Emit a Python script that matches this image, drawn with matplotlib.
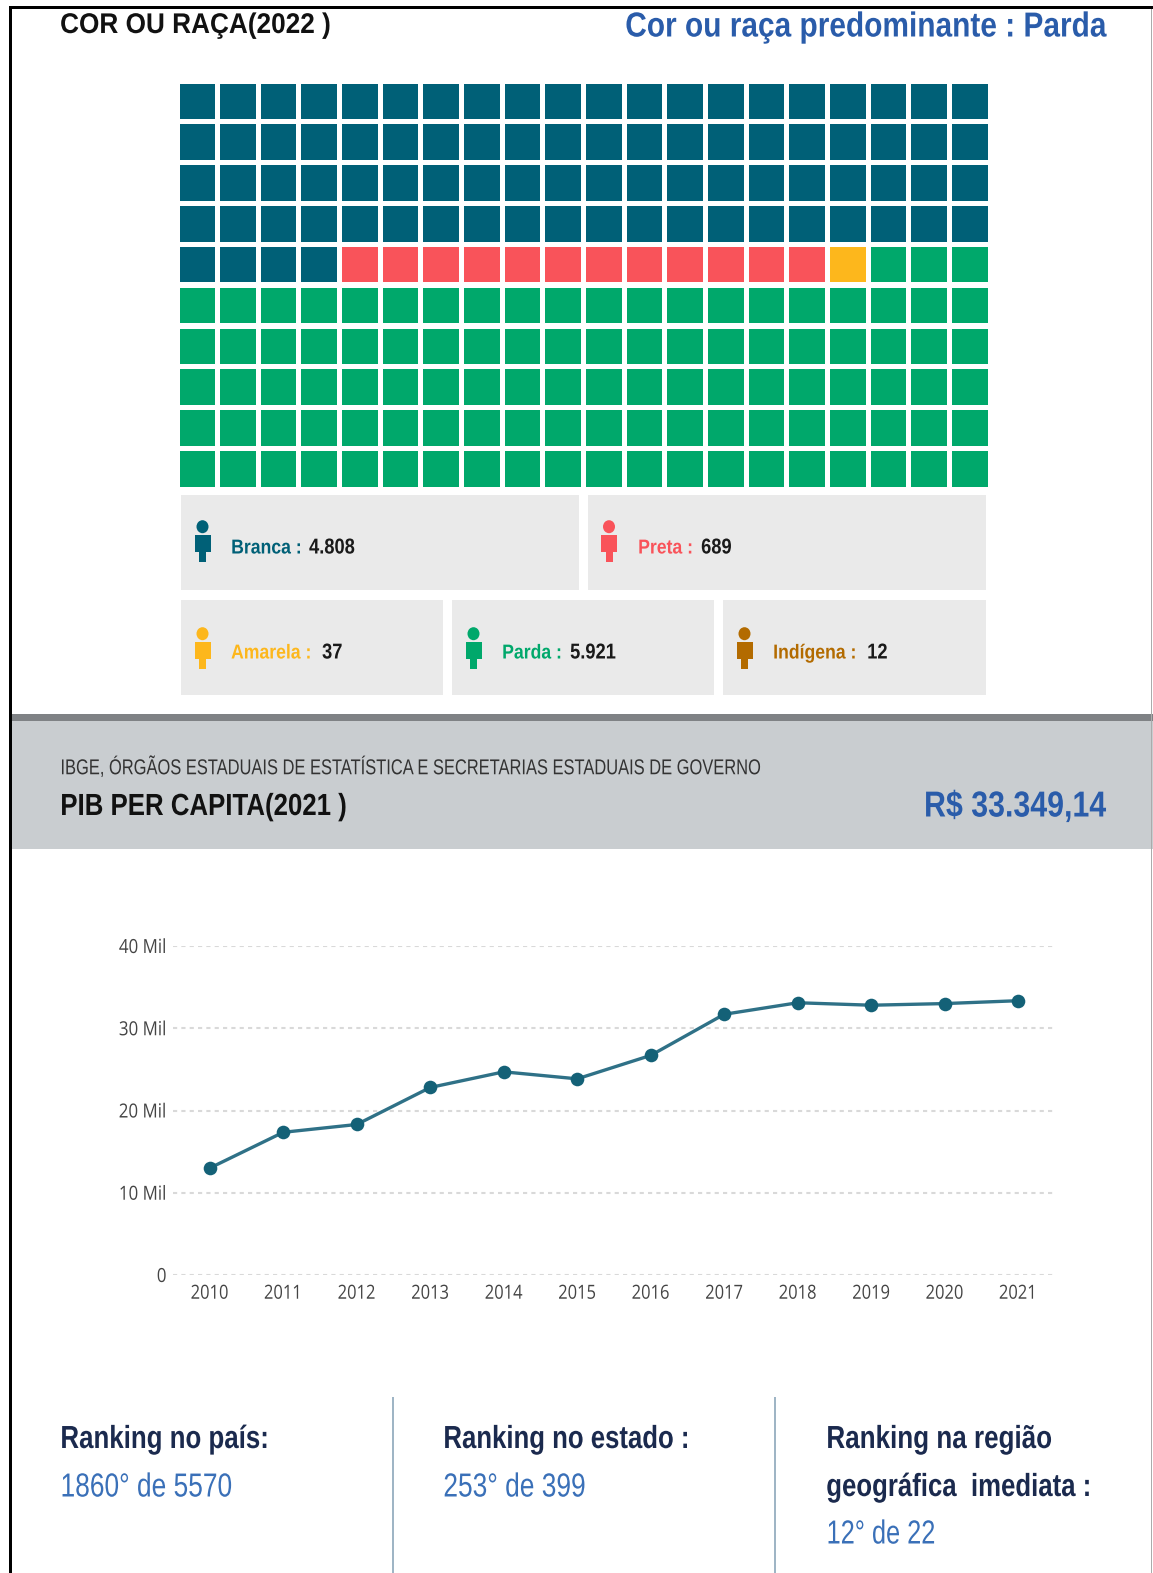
import matplotlib
matplotlib.use("Agg")
import matplotlib.pyplot as plt
import matplotlib.patheffects as pe
from matplotlib.patches import Rectangle, Ellipse
from matplotlib.transforms import Affine2D

W, H = 1153, 1573
SANS = "Liberation Sans"

categories = ["Branca", "Preta", "Amarela", "Parda", "Indígena"]
population = ["4.808", "689", "37", "5.921", "12"]
waffle_cells = [84, 12, 1, 103]
waffle_colors = ["#006077", "#F9535A", "#FDB71C", "#00A86B"]
cat_colors = ["#006077", "#F9535A", "#FDB71C", "#00A86B", "#B36B00"]
years = list(range(2010, 2022))
pib_mil = [13.0, 17.35, 18.3, 22.8, 24.7, 23.85, 26.7, 31.7, 33.1, 32.8, 33.0, 33.35]
y_ticks = [0, 10, 20, 30, 40]
y_labels = ["0", "10 Mil", "20 Mil", "30 Mil", "40 Mil"]


class Squeeze(pe.AbstractPathEffect):
    """Narrow a text horizontally about its own anchor edge."""
    def __init__(self, sx, align="left"):
        super().__init__()
        self.sx, self.align = sx, align

    def draw_path(self, renderer, gc, tpath, affine, rgbFace=None):
        ext = affine.transform_path(tpath).get_extents()
        x0 = {"left": ext.x0, "right": ext.x1, "center": (ext.x0 + ext.x1) / 2}[self.align]
        squeeze = Affine2D().translate(-x0, 0).scale(self.sx, 1).translate(x0, 0)
        renderer.draw_path(gc, tpath, affine + squeeze, rgbFace)


fig = plt.figure(figsize=(W / 100, H / 100), dpi=100, facecolor="white")
bg = fig.add_axes([0, 0, 1, 1], zorder=0)
bg.set_xlim(0, W); bg.set_ylim(H, 0); bg.axis("off")


def rect(x0, y0, x1, y1, c, z=1):
    bg.add_patch(Rectangle((x0, y0), x1 - x0, y1 - y0, fc=c, ec="none", zorder=z))


def T(x, y, s, size, sx, c="black", w="normal", ha="left"):
    bg.text(x, y, s, fontsize=size, color=c, fontweight=w, ha=ha, va="center", family=SANS,
            path_effects=[Squeeze(sx, ha)])


# frame
rect(8.5, 6, 11.5, H, "black", 5)
rect(8.5, 6, W, 9, "black", 5)
rect(1150.5, 9, 1152, H, "#ABABAB", 5)

# headers
T(60, 26, "COR OU RAÇA(2022 )", 20.5, 0.92, "#111111", "bold")
T(1106, 27, "Cor ou raça predominante : Parda", 25, 0.86, "#2A5CAA", "bold", ha="right")

# waffle
L, R, TOP, BOT = 179.5, 987.5, 83.5, 486.7
axw = fig.add_axes([L / W, 1 - BOT / H, (R - L) / W, (BOT - TOP) / H], zorder=1)
px, py = 40.66, 40.85
cw, ch = 35.5 / px, 35.5 / py
axw.set_xlim(0, 19 + cw); axw.set_ylim(9 + ch, 0); axw.axis("off")
seq = [c for c, n in zip(waffle_colors, waffle_cells) for _ in range(n)]
for i, c in enumerate(seq):
    axw.add_patch(Rectangle((i % 20, i // 20), cw, ch, fc=c, ec="none"))

# legend cards
cards = [(181, 495, 579, 589.5), (587.5, 495, 986, 589.5),
         (181, 600, 443, 695), (452, 600, 714, 695), (723, 600, 985.5, 695)]
label_x = [231, 638, 231, 502, 773]
value_x = [309, 701, 322, 570, 867]
for (x0, y0, x1, y1), cat, val, col, lx, vx in zip(cards, categories, population, cat_colors, label_x, value_x):
    rect(x0, y0, x1, y1, "#EAEAEA")
    cx = x0 + 21.5
    dy = 0 if y0 < 600 else 2
    bg.add_patch(Ellipse((cx, y0 + 31.7 + dy), 12, 13, fc=col, ec="none", zorder=2))
    bg.add_patch(Rectangle((cx - 8, y0 + 40 + dy), 16, 16.5, fc=col, ec="none", zorder=2))
    bg.add_patch(Rectangle((cx - 3.5, y0 + 56 + dy), 7, 10.5, fc=col, ec="none", zorder=2))
    T(lx, y0 + 53, cat + " :", 14.5, 0.875, col, "bold")
    T(vx, y0 + 53, val, 15.5, 0.85, "#1a1a1a", "bold")

# PIB band
rect(11, 714, W, 849, "#C9CDD0")
rect(11, 714, W, 721, "#7F8285", 2)
T(60, 768, "IBGE, ÓRGÃOS ESTADUAIS DE ESTATÍSTICA E SECRETARIAS ESTADUAIS DE GOVERNO", 15.5, 0.765, "#333333")
T(60, 807, "PIB PER CAPITA(2021 )", 22, 0.845, "#111111", "bold")
T(1106, 807, "R$ 33.349,14", 26, 0.84, "#2A5CAA", "bold", ha="right")

# line chart
LX0, LX1, LY0, LY1 = 173, 1055, 946, 1275
ax = fig.add_axes([LX0 / W, 1 - LY1 / H, (LX1 - LX0) / W, (LY1 - LY0) / H], zorder=2)
ax.patch.set_alpha(0)
ax.set_xlim(2009.5, 2021.5); ax.set_ylim(0, 40)
for s in ax.spines.values():
    s.set_visible(False)
ax.set_yticks(y_ticks, y_labels)
ax.set_xticks(years, [str(v) for v in years])
ax.tick_params(length=0, labelsize=14, labelcolor="#444444")
ax.tick_params(axis="y", pad=4.5)
ax.tick_params(axis="x", pad=7)
for lb in ax.get_xticklabels():
    lb.set_family("Open Sans")
    lb.set_path_effects([Squeeze(0.85, "center")])
for lb in ax.get_yticklabels():
    lb.set_family("Open Sans")
    lb.set_path_effects([Squeeze(0.87, "right")])
ax.grid(axis="y", color="#D9D9D9", lw=1.5, ls=(0, (2, 2)))
ax.set_axisbelow(True)
ax.plot(years, pib_mil, color="#2F7187", lw=2.4, marker="o", ms=9.8, mfc="#146177", mew=0, clip_on=False)

# ranking
rect(391.5, 1397, 393.5, H, "#9FB5C5")
rect(774, 1397, 776, H, "#9FB5C5")
navy = "#1B2A4E"; blue = "#3A70B8"
T(60, 1440, "Ranking no país:", 23, 0.81, navy, "bold")
T(60, 1488, "1860° de 5570", 24, 0.79, blue)
T(443, 1440, "Ranking no estado :", 23, 0.806, navy, "bold")
T(443, 1488, "253° de 399", 24, 0.79, blue)
T(826, 1440, "Ranking na região", 23, 0.815, navy, "bold")
T(826, 1488, "geográfica  imediata :", 23, 0.807, navy, "bold")
T(826, 1535, "12° de 22", 24, 0.76, blue)

fig.savefig("out.png", dpi=100)
